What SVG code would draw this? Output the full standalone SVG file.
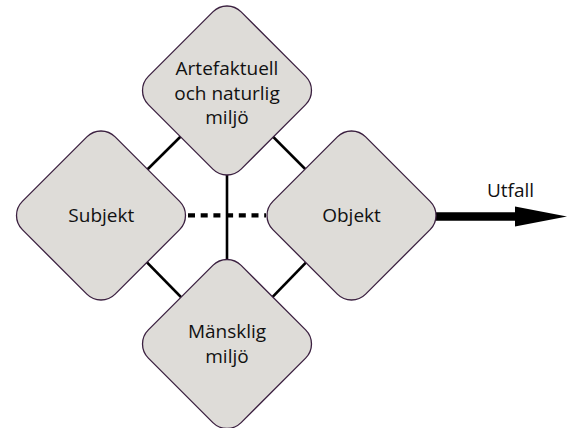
<svg xmlns="http://www.w3.org/2000/svg" width="572" height="428" viewBox="0 0 572 428">
  <style>
    .node rect { fill: #dedcd8; stroke: #3b2040; stroke-width: 1.3; }
    .node text, .label { font-family: "Open Sans", "Noto Sans", sans-serif; font-size: 19px; fill: #111; text-anchor: middle; }
    .conn { stroke: #000; stroke-width: 2.6; fill: none; }
    .dash { stroke: #000; stroke-width: 4.2; stroke-dasharray: 7 5.7; fill: none; }
  </style>
  <rect width="572" height="428" fill="#fff"/>
  <g id="connectors">
    <line class="conn" x1="227" y1="90.5" x2="101" y2="215.5"/>
    <line class="conn" x1="227" y1="90.5" x2="351.5" y2="215.5"/>
    <line class="conn" x1="227" y1="344" x2="101" y2="215.5"/>
    <line class="conn" x1="227" y1="344" x2="351.5" y2="215.5"/>
    <line class="conn" x1="227" y1="90.5" x2="227" y2="344"/>
    <line class="dash" x1="188" y1="215.3" x2="266" y2="215.3"/>
    <line x1="436" y1="216.5" x2="518" y2="216.5" stroke="#000" stroke-width="8.5"/>
    <polygon points="515,206.5 567,216.5 515,226.5" fill="#000"/>
  </g>
  <g id="node-top" class="node">
    <rect x="-65.6" y="-65.6" width="131.2" height="131.2" rx="20" transform="translate(227 90.5) rotate(45)"/>
    <text x="227" y="74.5">Artefaktuell</text>
    <text x="227" y="99.5">och naturlig</text>
    <text x="227" y="123.5">miljö</text>
  </g>
  <g id="node-left" class="node">
    <rect x="-65.6" y="-65.6" width="131.2" height="131.2" rx="20" transform="translate(101 215.5) rotate(45)"/>
    <text x="101.3" y="221.7">Subjekt</text>
  </g>
  <g id="node-right" class="node">
    <rect x="-65.6" y="-65.6" width="131.2" height="131.2" rx="20" transform="translate(351.5 215.5) rotate(45)"/>
    <text x="351.5" y="222">Objekt</text>
  </g>
  <g id="node-bottom" class="node">
    <rect x="-65.6" y="-65.6" width="131.2" height="131.2" rx="20" transform="translate(227 344) rotate(45)"/>
    <text x="227" y="338">Mänsklig</text>
    <text x="227" y="363">miljö</text>
  </g>
  <text class="label" x="510.5" y="197">Utfall</text>
</svg>
